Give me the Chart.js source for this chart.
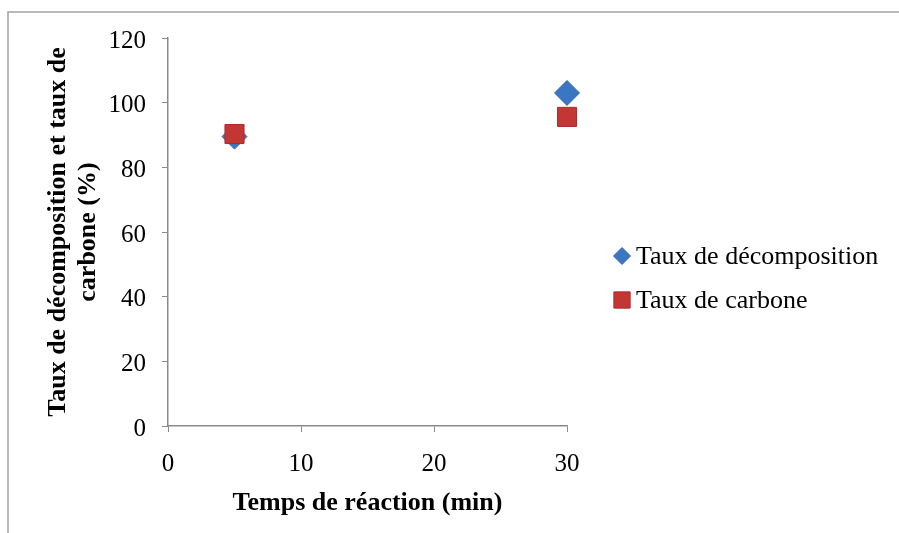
<!DOCTYPE html>
<html>
<head>
<meta charset="utf-8">
<script src="https://cdn.jsdelivr.net/npm/chart.js@4/dist/chart.umd.min.js"></script>
<style>
  html, body { margin: 0; padding: 0; background: #fff; overflow: hidden; }
</style>
</head>
<body>
<canvas id="scatterChart" width="899" height="533"></canvas>
<script>
// data
var reactionTimes = [5, 30];
var decompositionRates = [89.5, 103];
var carbonRates = [90.3, 95.6];
var seriesNames = ['Taux de décomposition', 'Taux de carbone'];
var xTitle = 'Temps de réaction (min)';
var yTitle = ['Taux de décomposition et taux de', 'carbone (%)'];

var serif = "'Liberation Serif', 'Times New Roman', serif";
var axisGrey = '#8a8a8a';

function points(xs, ys) {
    return xs.map(function (x, i) { return { x: x, y: ys[i] }; });
}

// frame around the chart + legend drawn to the right of the plot
var extrasPlugin = {
    id: 'extras',
    beforeDraw: function (chart) {
        var ctx = chart.ctx;
        ctx.save();
        ctx.strokeStyle = '#a3a3a3';
        ctx.lineWidth = 1.5;
        ctx.strokeRect(8, 12, 1000, 600);
        ctx.restore();
    },
    afterDraw: function (chart) {
        var ctx = chart.ctx;
        var rows = [256, 300];
        ctx.save();
        chart.data.datasets.forEach(function (ds, i) {
            ctx.fillStyle = ds.backgroundColor;
            ctx.strokeStyle = ds.borderColor;
            ctx.lineWidth = 1;
            Chart.helpers.drawPoint(ctx, {
                pointStyle: ds.pointStyle,
                radius: ds.pointStyle === 'rect' ? 11.5 : 8.5,
                rotation: 0,
                borderWidth: 1
            }, 622, rows[i]);
            ctx.fillStyle = '#000';
            ctx.font = '26px ' + serif;
            ctx.textBaseline = 'middle';
            ctx.textAlign = 'left';
            ctx.fillText(ds.label, 636, rows[i] + 1);
        });
        ctx.restore();
    }
};

var ctx = document.getElementById('scatterChart').getContext('2d');
var scatterChart = new Chart(ctx, {
    type: 'scatter',
    data: {
        datasets: [{
            label: seriesNames[0],
            data: points(reactionTimes, decompositionRates),
            pointStyle: 'rectRot',
            pointRadius: 12.5,
            pointHoverRadius: 12.5,
            backgroundColor: '#3b76c3',
            borderColor: '#3568ad',
            borderWidth: 1,
            clip: false,
            order: 2
        }, {
            label: seriesNames[1],
            data: points(reactionTimes, carbonRates),
            pointStyle: 'rect',
            pointRadius: 13.5,
            pointHoverRadius: 13.5,
            backgroundColor: '#c43634',
            borderColor: '#a82c2b',
            borderWidth: 1,
            clip: false,
            order: 1
        }]
    },
    options: {
        responsive: false,
        animation: false,
        events: [],
        layout: { padding: { top: 38, right: 332, bottom: 0, left: 0 } },
        scales: {
            x: {
                type: 'linear',
                min: 0,
                max: 30,
                afterFit: function (scale) { scale.height = 107; },
                ticks: { stepSize: 10, color: '#000', font: { family: serif, size: 25 }, padding: 17 },
                grid: { drawOnChartArea: false, color: axisGrey, tickLength: 6 },
                border: { color: axisGrey, width: 1.5 },
                title: { display: true, text: xTitle, color: '#000', font: { family: serif, size: 26, weight: 'bold' }, padding: { top: 0, bottom: 14 } }
            },
            y: {
                min: 0,
                max: 120,
                afterFit: function (scale) { scale.width = 168; },
                ticks: { stepSize: 20, color: '#000', font: { family: serif, size: 25 }, padding: 16, labelOffset: 3 },
                grid: { drawOnChartArea: false, color: axisGrey, tickLength: 6 },
                border: { color: axisGrey, width: 1.5 },
                title: { display: true, text: yTitle, color: '#000', font: { family: serif, size: 26, weight: 'bold', lineHeight: 1.15 }, padding: { top: 43, bottom: 0 } }
            }
        },
        plugins: {
            legend: { display: false },
            tooltip: { enabled: false }
        }
    },
    plugins: [extrasPlugin]
});
</script>
</body>
</html>
